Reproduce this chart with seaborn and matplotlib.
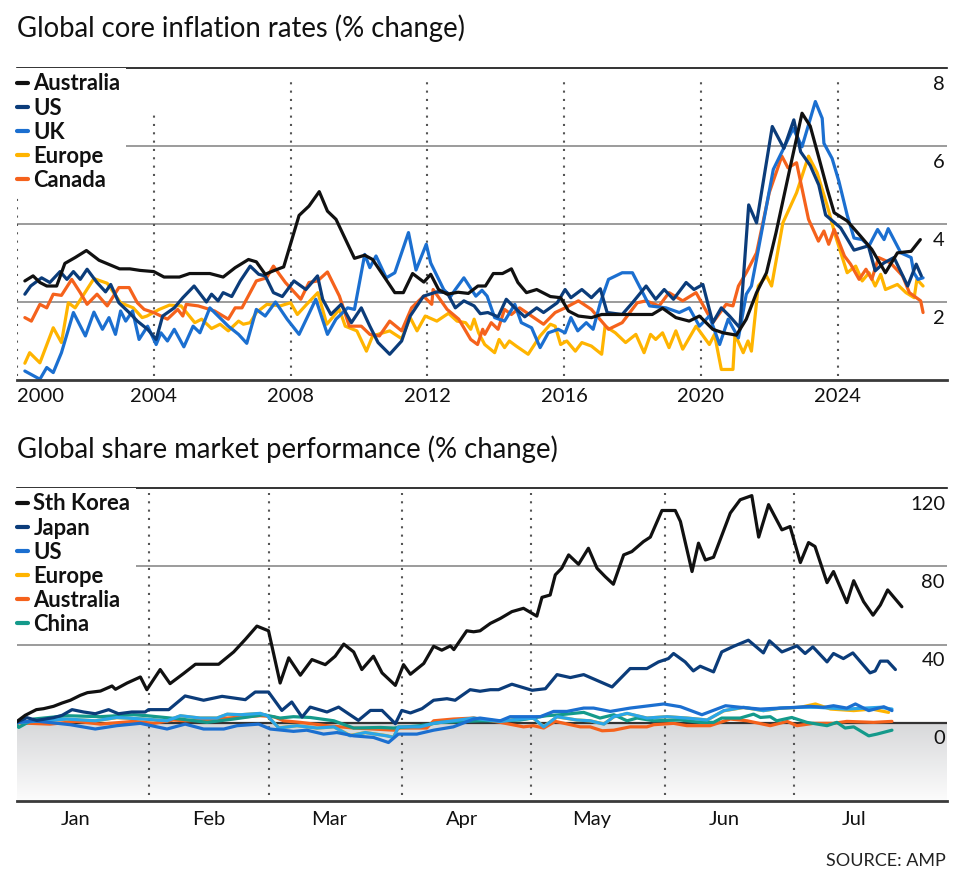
import matplotlib
matplotlib.use('Agg')
import matplotlib.pyplot as plt
import matplotlib.transforms as mtransforms
from matplotlib.colors import LinearSegmentedColormap
import numpy as np
import pandas as pd
import seaborn as sns

# ---- top panel: core inflation (% change) ----
aus_yr = [2000.23, 2000.47, 2000.67, 2000.87, 2001.16, 2001.40, 2001.70, 2002.03, 2002.40, 2003.00,
          2003.30, 2003.60, 2004.00, 2004.30, 2004.75, 2005.05, 2005.64, 2006.03, 2006.38, 2006.77,
          2007.00, 2007.26, 2007.50, 2007.80, 2008.25, 2008.54, 2008.84, 2009.08, 2009.33, 2009.87,
          2010.17, 2010.40, 2010.76, 2011.05, 2011.30, 2011.57, 2011.90, 2012.10, 2012.33, 2012.58,
          2012.90, 2013.20, 2013.48, 2013.70, 2013.93, 2014.20, 2014.46, 2014.65, 2014.90, 2015.20,
          2015.60, 2015.90, 2016.13, 2016.42, 2016.80, 2017.10, 2018.58, 2018.88, 2019.27, 2019.66,
          2019.96, 2020.35, 2020.65, 2021.04, 2021.33, 2021.63, 2021.92, 2022.20, 2022.60, 2022.96,
          2023.20, 2023.44, 2023.70, 2023.90, 2024.28, 2024.67, 2025.00, 2025.40, 2025.75, 2026.15,
          2026.42]
aus_val = [2.54, 2.67, 2.50, 2.41, 2.41, 2.99, 3.14, 3.32, 3.07, 2.85,
           2.85, 2.81, 2.78, 2.64, 2.64, 2.73, 2.73, 2.64, 2.88, 3.09,
           3.03, 2.71, 2.80, 2.90, 4.22, 4.46, 4.83, 4.33, 4.12, 3.12,
           3.20, 3.09, 2.62, 2.24, 2.24, 2.73, 2.51, 2.71, 2.32, 2.20,
           2.25, 2.22, 2.41, 2.41, 2.73, 2.73, 2.85, 2.50, 2.24, 2.32,
           2.14, 2.11, 1.77, 1.64, 1.60, 1.68, 1.68, 1.84, 1.60, 1.51,
           1.64, 1.30, 1.21, 1.15, 1.56, 2.24, 2.75, 3.78, 5.40, 6.84,
           6.51, 5.74, 4.89, 4.29, 4.08, 3.69, 3.35, 2.75, 3.26, 3.30,
           3.60]

us_yr = [2000.23, 2000.40, 2000.72, 2000.96, 2001.26, 2001.46, 2001.65, 2001.85, 2002.05, 2002.34,
         2002.59, 2002.74, 2002.98, 2003.28, 2003.52, 2003.82, 2004.07, 2004.26, 2004.60, 2004.85,
         2005.18, 2005.54, 2005.69, 2005.88, 2006.03, 2006.28, 2006.53, 2006.82, 2007.07, 2007.26,
         2007.50, 2007.76, 2008.10, 2008.45, 2008.79, 2008.94, 2009.18, 2009.48, 2009.78, 2010.07,
         2010.32, 2010.56, 2010.90, 2011.25, 2011.50, 2011.89, 2012.28, 2012.58, 2012.82, 2013.07,
         2013.37, 2013.55, 2013.77, 2014.07, 2014.31, 2014.56, 2014.85, 2015.20, 2015.40, 2015.80,
         2016.03, 2016.20, 2016.52, 2016.80, 2017.06, 2017.26, 2017.70, 2018.00, 2018.40, 2018.68,
         2018.93, 2019.20, 2019.57, 2019.80, 2020.06, 2020.35, 2020.60, 2020.84, 2021.14, 2021.40,
         2021.63, 2022.09, 2022.43, 2022.72, 2022.92, 2023.20, 2023.45, 2023.65, 2024.09, 2024.48,
         2024.90, 2025.10, 2025.35, 2025.65, 2026.05, 2026.30, 2026.45]
us_val = [2.20, 2.41, 2.62, 2.50, 2.78, 2.58, 2.78, 2.58, 2.84, 2.50,
          2.26, 2.45, 1.98, 1.73, 1.51, 1.30, 1.04, 1.64, 1.85, 2.11,
          2.41, 2.00, 2.20, 2.03, 2.24, 2.14, 2.54, 2.92, 2.71, 2.67,
          2.24, 2.14, 2.54, 2.32, 2.67, 2.07, 1.68, 1.94, 1.47, 1.85,
          1.38, 0.96, 0.66, 1.00, 1.64, 2.15, 2.26, 2.24, 1.85, 2.03,
          1.90, 1.70, 1.73, 1.62, 2.07, 1.85, 1.62, 1.85, 1.73, 1.98,
          2.32, 2.11, 2.32, 2.11, 2.34, 1.73, 1.68, 1.98, 2.41, 2.07,
          2.32, 2.07, 2.50, 2.32, 2.45, 1.47, 1.85, 1.64, 1.34, 4.49,
          4.03, 6.50, 5.94, 6.67, 5.85, 5.50, 5.00, 4.23, 3.90, 3.33,
          3.44, 2.80, 3.00, 3.14, 2.41, 2.97, 2.67]

uk_yr = [2000.23, 2000.67, 2000.87, 2001.06, 2001.30, 2001.65, 2002.00, 2002.25, 2002.50, 2002.69,
         2002.88, 2003.03, 2003.18, 2003.38, 2003.57, 2003.82, 2004.07, 2004.21, 2004.40, 2004.60,
         2004.88, 2005.15, 2005.35, 2005.64, 2006.18, 2006.48, 2006.72, 2007.00, 2007.26, 2007.56,
         2007.90, 2008.25, 2008.74, 2009.08, 2009.33, 2009.67, 2009.87, 2010.17, 2010.32, 2010.50,
         2010.80, 2011.05, 2011.45, 2011.67, 2011.97, 2012.10, 2012.48, 2012.68, 2012.82, 2013.07,
         2013.42, 2013.60, 2013.75, 2013.97, 2014.26, 2014.56, 2014.75, 2015.05, 2015.30, 2015.54,
         2015.83, 2016.03, 2016.20, 2016.40, 2016.65, 2016.85, 2017.06, 2017.30, 2017.70, 2018.00,
         2018.30, 2018.50, 2018.98, 2019.37, 2019.66, 2019.96, 2020.25, 2020.55, 2020.80, 2021.10,
         2021.33, 2021.48, 2021.63, 2022.12, 2022.40, 2022.70, 2022.96, 2023.35, 2023.55, 2023.60,
         2023.84, 2024.04, 2024.28, 2024.48, 2024.72, 2024.92, 2025.17, 2025.36, 2025.48, 2025.85,
         2026.15, 2026.23, 2026.35, 2026.50]
uk_val = [0.23, 0.02, 0.32, 0.19, 0.70, 1.73, 1.13, 1.74, 1.30, 1.60,
          1.17, 1.77, 1.51, 1.77, 1.04, 1.38, 0.91, 1.21, 1.00, 1.30,
          0.85, 1.38, 1.21, 1.85, 1.38, 1.17, 0.94, 1.81, 1.64, 2.00,
          1.56, 1.17, 2.07, 1.17, 1.56, 1.85, 1.81, 3.22, 2.88, 3.18,
          2.62, 2.75, 3.78, 2.82, 3.48, 3.00, 2.32, 2.14, 2.32, 2.62,
          2.15, 2.30, 2.15, 1.60, 1.51, 1.94, 1.47, 1.34, 0.83, 1.21,
          1.30, 1.21, 1.60, 1.26, 1.47, 1.30, 1.98, 2.58, 2.75, 2.75,
          2.24, 1.90, 1.85, 1.73, 1.85, 1.38, 1.64, 0.91, 1.56, 1.08,
          2.20, 2.41, 3.10, 5.40, 5.90, 6.45, 5.98, 7.14, 6.71, 6.07,
          5.68, 5.09, 4.23, 3.64, 3.60, 3.44, 3.86, 3.60, 3.88, 3.26,
          3.14, 2.75, 2.58, 2.62]

eu_yr = [2000.23, 2000.37, 2000.67, 2001.06, 2001.30, 2001.50, 2001.70, 2002.25, 2002.64, 2003.03,
         2003.40, 2003.66, 2003.80, 2004.16, 2004.46, 2004.80, 2005.20, 2005.40, 2005.69, 2005.94,
         2006.18, 2006.48, 2006.62, 2006.82, 2007.00, 2007.31, 2007.70, 2008.00, 2008.20, 2008.45,
         2008.80, 2009.06, 2009.43, 2009.60, 2009.94, 2010.22, 2010.40, 2010.90, 2011.25, 2011.50,
         2011.70, 2011.94, 2012.28, 2012.62, 2012.87, 2013.12, 2013.27, 2013.37, 2013.50, 2013.68,
         2013.97, 2014.10, 2014.26, 2014.40, 2014.60, 2014.95, 2015.30, 2015.60, 2015.74, 2015.90,
         2016.08, 2016.33, 2016.52, 2016.80, 2017.10, 2017.20, 2017.50, 2017.80, 2018.10, 2018.34,
         2018.53, 2018.68, 2018.88, 2019.07, 2019.27, 2019.47, 2019.86, 2020.25, 2020.40, 2020.60,
         2020.94, 2021.00, 2021.24, 2021.38, 2021.48, 2021.68, 2021.92, 2022.07, 2022.40, 2022.80,
         2023.15, 2023.40, 2023.70, 2023.94, 2024.28, 2024.53, 2024.72, 2024.92, 2025.10, 2025.26,
         2025.40, 2025.75, 2026.00, 2026.24, 2026.32, 2026.50]
eu_val = [0.43, 0.70, 0.44, 1.34, 0.96, 1.98, 1.85, 2.60, 2.48, 1.98,
          1.85, 1.60, 1.64, 1.81, 1.92, 1.90, 1.47, 1.56, 1.32, 1.43,
          1.26, 1.51, 1.43, 1.47, 1.73, 1.94, 1.90, 1.98, 1.68, 1.92,
          2.24, 1.43, 1.81, 1.38, 1.26, 0.74, 1.13, 1.26, 1.06, 1.60,
          1.26, 1.64, 1.51, 1.71, 1.51, 1.47, 1.30, 1.56, 1.21, 0.91,
          0.70, 1.04, 0.83, 1.00, 0.87, 0.66, 1.13, 1.43, 1.38, 0.91,
          1.00, 0.74, 0.96, 0.87, 0.66, 1.38, 1.21, 0.96, 1.17, 0.70,
          1.17, 1.04, 1.21, 0.83, 1.26, 0.79, 1.38, 0.91, 1.17, 0.27,
          0.27, 1.17, 0.70, 1.00, 0.74, 2.41, 2.67, 2.41, 4.03, 4.80,
          5.74, 5.32, 4.46, 3.69, 2.75, 2.92, 2.54, 2.75, 2.41, 2.71,
          2.32, 2.45, 2.24, 2.11, 2.58, 2.41]

can_yr = [2000.23, 2000.42, 2000.67, 2000.87, 2001.06, 2001.30, 2001.60, 2001.85, 2002.05, 2002.34,
          2002.64, 2002.98, 2003.28, 2003.52, 2003.72, 2004.00, 2004.40, 2004.70, 2004.85, 2004.95,
          2005.30, 2005.78, 2006.18, 2006.38, 2006.58, 2007.00, 2007.30, 2007.50, 2007.85, 2008.30,
          2008.54, 2008.79, 2009.08, 2009.43, 2009.72, 2010.07, 2010.32, 2010.60, 2010.90, 2011.25,
          2011.54, 2011.89, 2012.13, 2012.17, 2012.58, 2012.92, 2013.27, 2013.47, 2013.62, 2013.68,
          2013.87, 2014.07, 2014.26, 2014.46, 2014.70, 2015.05, 2015.40, 2015.74, 2016.03, 2016.42,
          2016.80, 2017.30, 2017.70, 2018.14, 2018.40, 2018.78, 2019.07, 2019.47, 2019.86, 2020.35,
          2020.74, 2020.94, 2021.10, 2021.33, 2021.63, 2022.00, 2022.37, 2022.55, 2022.80, 2023.15,
          2023.44, 2023.60, 2023.74, 2023.90, 2024.20, 2024.38, 2024.63, 2024.83, 2025.00, 2025.20,
          2025.55, 2025.90, 2026.10, 2026.43, 2026.50]
can_val = [1.60, 1.51, 1.94, 1.85, 2.20, 2.17, 2.58, 2.24, 1.94, 2.20,
           1.90, 2.37, 2.37, 1.98, 1.81, 1.73, 1.56, 1.81, 1.64, 1.94,
           1.90, 1.77, 1.56, 1.85, 1.85, 2.54, 2.62, 2.92, 2.50, 2.07,
           2.50, 2.54, 2.77, 2.15, 1.38, 1.38, 1.17, 1.13, 1.51, 1.26,
           1.85, 2.15, 1.94, 2.32, 1.81, 1.56, 1.04, 0.91, 1.30, 1.17,
           1.47, 1.30, 1.81, 1.68, 1.85, 1.64, 1.43, 1.73, 1.85, 2.03,
           1.81, 1.30, 1.47, 1.98, 2.03, 1.90, 2.24, 2.03, 2.24, 1.47,
           1.94, 1.90, 2.41, 2.75, 3.26, 4.80, 5.74, 5.44, 5.57, 4.12,
           3.56, 3.82, 3.48, 3.86, 3.18, 2.97, 2.58, 2.84, 2.58, 3.14,
           3.00, 2.67, 2.24, 2.03, 1.73]

year_ticks = [2000, 2004, 2008, 2012, 2016, 2020, 2024]
infl_ticks = [2, 4, 6, 8]

# ---- bottom panel: share markets (% change), x = days since 1 Jan ----
kor_day = [0, 2.3, 4.9, 6.6, 8.9, 10.9, 12.8, 15.1, 16.8, 19.8, 22.5, 23.3, 26.0, 29.1, 30.6, 33.7,
           36.0, 39.1, 41.9, 47.3, 50.8, 53.5, 56.2, 58.9, 61.6, 63.6, 66.3, 69.0, 72.1, 74.4, 76.4,
           78.7, 80.6, 83.3, 85.3, 88.4, 90.3, 91.9, 95.0, 97.3, 99.2, 101.2, 102.0, 105.0, 106.6,
           108.1, 110.5, 112.8, 115.5, 118.2, 121.3, 122.5, 124.4, 125.6, 127.1, 128.7, 131.0, 133.3,
           135.3, 137.2, 139.1, 141.5, 143.4, 146.1, 147.7, 150.4, 153.5, 154.7, 157.4, 158.9, 160.5,
           162.4, 166.3, 168.6, 171.3, 172.9, 175.2, 178.3, 180.2, 182.6, 184.5, 186.0, 188.8, 190.3,
           193.4, 195.0, 197.3, 199.5, 201.2, 202.9, 206.2]
kor_val = [0, 3.8, 6.7, 7.2, 8.4, 10.1, 11.5, 14.0, 15.4, 16.2, 18.8, 17.1, 20.3, 23.4, 16.9, 27.2,
           20.0, 25.1, 29.9, 29.9, 36.2, 42.6, 49.4, 47.0, 20.3, 33.2, 24.3, 32.3, 29.7, 34.0, 40.2,
           36.2, 27.2, 34.0, 25.5, 19.1, 29.7, 24.8, 30.3, 39.1, 37.1, 39.3, 37.4, 47.0, 46.5,
           47.0, 50.8, 53.3, 56.8, 58.5, 54.5, 64.1, 65.3, 75.6, 79.0, 85.8, 81.0, 89.2,
           79.0, 74.7, 70.8, 85.8, 87.5, 92.6, 94.9, 108.5, 108.5, 102.9, 77.3, 91.8, 83.2,
           84.6, 107.2, 114.0, 116.1, 94.9, 111.5, 98.6, 100.3, 81.9, 92.1, 90.1, 71.6, 77.3,
           61.4, 72.6, 61.9, 55.0, 60.2, 67.9, 59.3]

jpn_day = [0, 2.7, 5.0, 8.9, 10.9, 13.2, 15.9, 18.6, 21.7, 24.0, 27.1, 30.2, 31.0, 35.7, 39.5, 43.8,
           48.1, 53.5, 55.8, 58.9, 62.0, 64.3, 66.7, 68.6, 72.5, 75.2, 79.8, 82.6, 85.3, 88.4, 89.9,
           91.9, 94.6, 97.3, 100.4, 102.3, 105.8, 108.1, 110.5, 112.4, 115.5, 120.2, 123.3, 126.0,
           129.1, 132.2, 138.8, 143.0, 146.9, 149.6, 151.9, 153.1, 155.8, 157.7, 159.3, 162.4, 164.3,
           167.1, 170.5, 174.0, 175.4, 178.3, 181.8, 183.7, 185.5, 188.8, 190.3, 192.6, 194.8, 198.8,
           200.0, 201.2, 202.9, 204.7]
jpn_val = [0, 2.6, 1.2, 2.6, 3.8, 6.7, 5.5, 4.6, 6.7, 4.6, 5.5, 5.5, 6.7, 6.7, 13.7, 11.5,
           13.5, 11.8, 15.7, 15.7, 6.3, 10.6, 2.9, 8.0, 5.5, 8.0, 1.2, 6.3, 6.3, -0.5, 6.3,
           5.0, 7.2, 11.5, 12.3, 11.5, 16.9, 16.1, 16.9, 16.9, 19.7, 16.6, 17.4, 24.6,
           23.1, 24.6, 18.3, 27.7, 27.7, 31.1, 32.8, 35.4, 31.1, 26.5, 28.9, 26.0, 36.2,
           39.1, 42.2, 35.7, 41.9, 36.2, 39.3, 35.4, 38.8, 31.1, 35.4, 32.8, 35.7, 25.5,
           26.5, 31.5, 31.5, 27.2]

usm_day = [0, 4.3, 12.8, 18.6, 23.6, 29.1, 35.3, 39.5, 43.8, 48.5, 51.6, 56.6, 59.3, 64.7, 67.8,
           71.7, 74.8, 78.7, 83.3, 86.8, 89.1, 93.4, 97.3, 101.9, 106.6, 108.1, 112.8, 115.1, 122.1,
           125.2, 128.3, 132.2, 134.5, 138.4, 143.0, 150.8, 154.7, 159.7, 165.2, 168.6, 173.3, 177.9,
           181.8, 184.9, 188.0, 190.3, 193.4, 195.4, 198.5, 202.0, 203.9]
usm_val = [0, 1.0, -1.0, -3.2, -1.5, -0.3, -3.2, -0.7, -3.2, -3.2, -1.5, -0.7, -3.2, -4.4, -3.8,
           -5.8, -5.0, -6.7, -7.5, -10.1, -5.8, -5.8, -3.8, -2.1, 1.9, 2.4, 1.0, 3.1, 3.1,
           5.8, 5.8, 7.5, 7.5, 5.8, 7.5, 9.6, 8.2, 4.1, 8.7, 7.9, 7.0, 7.5,
           7.9, 8.4, 7.9, 8.7, 7.5, 9.6, 6.2, 8.2, 6.2]

# light blue line, drawn but not named in the legend
oth_day = [0, 4.3, 12.0, 18.6, 23.6, 29.8, 35.3, 38.4, 43.0, 46.9, 49.3, 52.4, 57.0, 58.6, 61.3,
           65.5, 70.2, 74.1, 77.9, 81.4, 86.4, 88.0, 89.1, 94.2, 97.3, 101.9, 106.6, 108.1, 112.8,
           117.4, 120.5, 122.9, 126.0, 130.6, 133.7, 136.9, 139.2, 142.3, 146.9, 151.6, 156.2, 160.9,
           164.8, 169.4, 174.0, 177.9, 182.6, 186.4, 193.4, 201.2, 203.9]
oth_val = [0, 0.7, 1.9, 1.0, 2.7, 1.9, 1.0, 3.6, 2.4, 2.4, 4.4, 4.1, 4.8, 3.6, -2.7,
           -1.5, -2.7, -2.1, -6.7, -5.0, -6.7, -7.5, -2.1, -2.1, -0.3, 1.0, 2.4, 1.9, 0.7,
           1.9, 2.4, -2.1, 3.1, 1.4, 1.0, -0.7, 3.1, 4.8, 2.4, 3.1, 2.4, 1.4,
           6.2, 7.9, 6.2, 7.5, 7.9, 7.9, 7.0, 7.9, 7.0]

# Europe sits under the blue lines until July
eum_day = [0, 4.3, 12.0, 18.6, 23.6, 29.8, 35.3, 38.4, 43.0, 46.9, 49.3, 52.4, 57.0, 58.6, 61.3,
           65.5, 70.2, 74.1, 77.9, 81.4, 86.4, 88.0, 89.1, 94.2, 97.3, 101.9, 106.6, 108.1, 112.8,
           117.4, 120.5, 122.9, 126.0, 130.6, 133.7, 136.9, 139.2, 142.3, 146.9, 151.6, 156.2, 160.9,
           164.8, 169.4, 174.0, 177.9, 182.6, 186.1, 189.6, 195.0, 199.2, 203.1]
eum_val = [0, 0.7, 1.8, 1.0, 2.6, 1.9, 1.0, 3.5, 2.4, 2.4, 4.3, 4.1, 4.7, 3.6, -2.6,
           -1.5, -2.7, -2.1, -6.5, -5.0, -6.6, -7.4, -2.1, -2.1, -0.3, 1.0, 2.3, 1.9, 0.7,
           1.9, 2.3, -2.0, 3.0, 1.4, 1.0, -0.6, 3.0, 4.7, 2.4, 3.1, 2.4, 1.4,
           6.1, 7.8, 6.2, 7.4, 7.9, 9.6, 7.0, 6.2, 7.0, 5.3]

ausm_day = [0, 8.1, 14.3, 19.8, 27.5, 32.2, 36.8, 39.5, 44.6, 49.3, 57.0, 60.1, 62.4, 66.3, 72.5,
            78.7, 83.3, 88.0, 89.5, 95.7, 97.3, 101.9, 106.6, 108.1, 112.8, 118.2, 120.5, 122.9,
            125.6, 131.4, 133.7, 136.5, 139.2, 143.0, 146.9, 148.5, 153.1, 156.2, 161.6, 166.3, 170.2,
            175.6, 179.5, 181.8, 185.7, 190.3, 193.4, 199.6, 203.9]
ausm_val = [0, -0.7, 0.7, -0.7, 0.7, -0.3, 1.4, 1.0, 1.4, 2.4, 3.6, 3.1, 1.0, 0.2, -1.5,
            -2.7, -3.2, -3.8, -2.7, -2.7, 1.0, 1.9, 2.4, 1.9, 0.2, -2.1, -1.5, -2.7,
            0.7, -2.1, -2.1, -4.1, -3.8, -2.1, -2.1, -1.0, -0.3, -1.5, -1.5, 1.9, 1.0,
            -1.5, 0.7, -1.5, -0.3, -0.3, 0.7, 0.2, 0.7]

chn_day = [0, 0.8, 4.3, 12.0, 19.8, 27.5, 30.6, 38.4, 44.6, 50.8, 57.8, 61.6, 64.7, 68.6, 74.1,
           78.7, 84.9, 88.0, 94.2, 98.8, 105.0, 108.1, 112.8, 117.4, 123.6, 126.7, 132.2, 136.0,
           139.2, 142.3, 144.6, 148.5, 154.7, 159.3, 162.4, 164.3, 168.6, 171.7, 173.3, 175.6, 177.1,
           180.6, 184.1, 188.8, 191.1, 193.0, 195.0, 198.5, 200.4, 203.9]
chn_val = [0, -2.4, 1.9, 3.6, 3.1, 4.1, 3.6, 1.9, 0.2, 1.9, 4.1, 2.4, 3.1, 2.7, 1.0,
           -2.7, -2.4, -2.7, -1.5, 0.2, 0.7, 1.0, 1.0, 1.4, 3.6, 4.1, 5.3, 2.4,
           4.1, 1.0, 2.4, 1.0, 1.4, 0.2, 0.2, 2.4, 2.4, 4.4, 2.7, 3.1, 1.0,
           2.7, 0.2, -1.5, 0.2, -2.7, -2.1, -6.7, -5.8, -3.8]

month_labels = ['Jan', 'Feb', 'Mar', 'Apr', 'May', 'Jun', 'Jul']
month_mid = [14, 45, 73, 104, 134, 165, 195]
month_start = [31, 59, 90, 120, 151, 181]
share_ticks = [0, 40, 80, 120]

BLACK = '#111111'
NAVY = '#0b3c7a'
BLUE = '#1b6fd0'
SKY = '#2ba6e8'
AMBER = '#ffb400'
ORANGE = '#f5621c'
TEAL = '#149a8b'


def long_frame(series):
    rows = []
    for name, xs, ys in series:
        rows.append(pd.DataFrame({'x': xs, 'y': ys, 'series': name}))
    return pd.concat(rows, ignore_index=True)


infl = long_frame([('Europe', eu_yr, eu_val), ('Canada', can_yr, can_val), ('UK', uk_yr, uk_val),
                   ('US', us_yr, us_val), ('Australia', aus_yr, aus_val)])
share = long_frame([('Europe', eum_day, eum_val), ('Australia', ausm_day, ausm_val),
                    ('China', chn_day, chn_val), ('_other', oth_day, oth_val),
                    ('US', usm_day, usm_val), ('Japan', jpn_day, jpn_val),
                    ('Sth Korea', kor_day, kor_val)])

sns.set_theme(style='white')
plt.rcParams['font.family'] = ['Lato', 'DejaVu Sans']
plt.rcParams['text.color'] = BLACK

fig = plt.figure(figsize=(9.6, 8.8), dpi=100)
ax1 = fig.add_axes([17 / 960, 1 - 380 / 880, 930 / 960, 312 / 880])
ax2 = fig.add_axes([17 / 960, 1 - 801 / 880, 930 / 960, 313 / 880])


def style_axes(ax, ticks, tick_labels, levels, level_labels):
    for s in ['left', 'right']:
        ax.spines[s].set_visible(False)
    ax.spines['top'].set_color(BLACK)
    ax.spines['top'].set_linewidth(1.2)
    ax.spines['bottom'].set_color('#3a3a3a')
    ax.spines['bottom'].set_linewidth(2)
    ax.set_xticks(ticks)
    ax.set_xticklabels(tick_labels)
    ax.set_yticks([])
    ax.set_xlabel('')
    ax.set_ylabel('')
    ax.tick_params(axis='x', length=0, labelsize=14.5, pad=6, colors=BLACK)
    trans = mtransforms.blended_transform_factory(ax.transAxes, ax.transData)
    off = mtransforms.ScaledTranslation(-2 / 100, -16 / 100, fig.dpi_scale_trans)
    for v, lab in zip(levels, level_labels):
        ax.text(1.0, v, lab, transform=trans + off, ha='right', va='center',
                fontsize=14.5, color=BLACK)


def add_legend(ax, order):
    handles, labels = ax.get_legend_handles_labels()
    lookup = dict(zip(labels, handles))
    leg = ax.legend([lookup[k] for k in order], order, loc='upper left',
                    bbox_to_anchor=(-0.006, 1.0), borderaxespad=0, borderpad=0.25,
                    frameon=True, facecolor='white', edgecolor='none', framealpha=1,
                    fancybox=False, handlelength=0.5, handletextpad=0.25, labelspacing=0.14,
                    prop={'weight': 'bold', 'size': 15.8})
    for line in leg.get_lines():
        line.set_linewidth(3)
    leg.set_zorder(5)


# ---- top panel ----
for g in [2, 4, 6]:
    ax1.axhline(g, color='#8a8a8a', lw=1.2, zorder=1)
ax1.vlines(year_ticks, 0.1, [4.8, 6.85, 7.7, 7.7, 7.7, 7.7, 7.7], colors='#555555',
           linestyles=(0, (1, 3)), lw=1.5, zorder=1)
sns.lineplot(data=infl, x='x', y='y', hue='series',
             hue_order=['Europe', 'Canada', 'UK', 'US', 'Australia'],
             palette=[AMBER, ORANGE, BLUE, NAVY, BLACK], sort=False, estimator=None,
             linewidth=2.3, ax=ax1)
ax1.set_xlim(2000, 2027.2)
ax1.set_ylim(0, 8)
style_axes(ax1, year_ticks, [str(y) for y in year_ticks], infl_ticks, [str(v) for v in infl_ticks])
ax1.get_xticklabels()[0].set_horizontalalignment('left')
add_legend(ax1, ['Australia', 'US', 'UK', 'Europe', 'Canada'])

# ---- bottom panel ----
x0, x1 = 0.4, 216.7
shade = LinearSegmentedColormap.from_list('shade', ['#d7d8da', '#fcfcfc'])
ax2.imshow(np.linspace(0, 1, 200).reshape(-1, 1), cmap=shade, aspect='auto',
           extent=[x0, x1, -40, 0], origin='upper', zorder=0)
for g in [40, 80]:
    ax2.axhline(g, color='#8a8a8a', lw=1.2, zorder=1)
ax2.axhline(0, color='#333333', lw=1.6, zorder=1)
ax2.vlines(month_start, -37, 117.5, colors='#555555', linestyles=(0, (1, 3)), lw=1.5, zorder=1)
sns.lineplot(data=share, x='x', y='y', hue='series',
             hue_order=['Europe', 'Australia', 'China', '_other', 'US', 'Japan', 'Sth Korea'],
             palette=[AMBER, ORANGE, TEAL, SKY, BLUE, NAVY, BLACK], sort=False, estimator=None,
             linewidth=2.3, ax=ax2)
ax2.set_xlim(x0, x1)
ax2.set_ylim(-40, 120)
style_axes(ax2, month_mid, month_labels, share_ticks, [str(v) for v in share_ticks])
ax2.tick_params(axis='x', pad=7)
add_legend(ax2, ['Sth Korea', 'Japan', 'US', 'Europe', 'Australia', 'China'])

fig.text(17 / 960, 1 - 37 / 880, 'Global core inflation rates (% change)', fontsize=19.8,
         va='baseline', ha='left', color=BLACK)
fig.text(17 / 960, 1 - 458 / 880, 'Global share market performance (% change)', fontsize=19.8,
         va='baseline', ha='left', color=BLACK)
fig.text(946 / 960, 1 - 866 / 880, 'SOURCE: AMP', fontsize=13, va='baseline', ha='right',
         color='#222222')

fig.savefig('out.png', dpi=100)
